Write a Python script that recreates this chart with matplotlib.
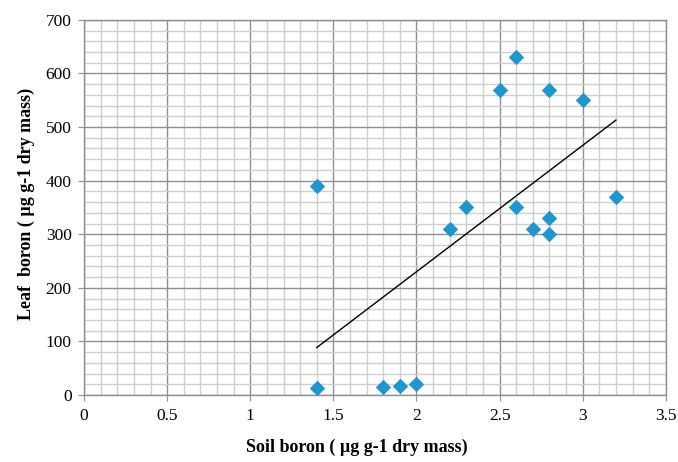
import numpy as np
import matplotlib
matplotlib.use("Agg")
import matplotlib.pyplot as plt
from matplotlib.ticker import MultipleLocator

soil_boron = [1.4, 1.4, 1.8, 1.9, 2.0, 2.2, 2.3, 2.5, 2.6, 2.6, 2.7, 2.8, 2.8, 2.8, 3.0, 3.2]
leaf_boron = [390, 13, 15, 17, 20, 310, 350, 570, 630, 350, 310, 570, 330, 300, 550, 370]
x_ticks = [0, 0.5, 1, 1.5, 2, 2.5, 3, 3.5]
x_tick_labels = ["0", "0.5", "1", "1.5", "2", "2.5", "3", "3.5"]
y_ticks = [0, 100, 200, 300, 400, 500, 600, 700]

plt.rcParams['font.family'] = ['Liberation Serif', 'DejaVu Serif']

fig = plt.figure(figsize=(6.78, 4.62), dpi=100)
ax = fig.add_axes([0.124, 0.145, 0.858, 0.812])

ax.set_xlim(0, 3.5)
ax.set_ylim(0, 700)
ax.set_xticks(x_ticks)
ax.set_xticklabels(x_tick_labels)
ax.set_yticks(y_ticks)
ax.xaxis.set_minor_locator(MultipleLocator(0.1))
ax.yaxis.set_minor_locator(MultipleLocator(20))
ax.grid(which='minor', color='#cfcfcf', lw=1.0, zorder=0)
ax.grid(which='major', color='#8f8f8f', lw=1.0, zorder=0.5)
ax.set_axisbelow(True)
ax.tick_params(which='minor', length=0)
ax.tick_params(which='major', length=4, color='#8f8f8f', labelsize=12.5, pad=5)
for s in ax.spines.values():
    s.set_color('#8f8f8f')
    s.set_linewidth(1.0)

ax.scatter(soil_boron, leaf_boron, marker='D', s=62, color='#1f97cc', zorder=3, linewidths=0)

xs = np.array(soil_boron)
ys = np.array(leaf_boron)
m, b = np.polyfit(xs, ys, 1)
xl = np.array([xs.min(), xs.max()])
ax.plot(xl, m * xl + b, color='black', lw=1.0, zorder=4)

fig.text(357 / 678, 1 - 447 / 462, "Soil boron ( µg g-1 dry mass)", fontsize=13,
         fontweight='bold', ha='center', va='center')
fig.text(26 / 678, 1 - 204 / 462, "Leaf  boron ( µg g-1 dry mass)", fontsize=13,
         fontweight='bold', ha='center', va='center', rotation=90)

fig.savefig("out.png", dpi=100)
